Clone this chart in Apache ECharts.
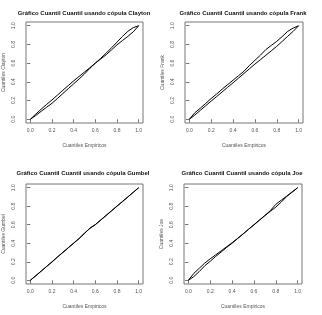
<!DOCTYPE html>
<html><head><meta charset="utf-8">
<script src="https://cdn.jsdelivr.net/npm/echarts@6/dist/echarts.min.js"></script>
<style>html,body{margin:0;padding:0;background:#fff}#c{width:322px;height:315px}</style>
</head><body><div id="c"></div>
<script>
var xs = [0,0.05,0.1,0.15,0.2,0.25,0.3,0.35,0.4,0.45,0.5,0.55,0.6,0.65,0.7,0.75,0.8,0.85,0.9,0.95,1];
var tickValues = [0,0.2,0.4,0.6,0.8,1];
var titles = ["Gráfico Cuantil Cuantil usando cópula Clayton","Gráfico Cuantil Cuantil usando cópula Frank","Gráfico Cuantil Cuantil usando cópula Gumbel","Gráfico Cuantil Cuantil usando cópula Joe"];
var yNames = ["Cuantiles Clayton","Cuantiles Frank","Cuantiles Gumbel","Cuantiles Joe"];
var xName = "Cuantiles Empiricos";
var claytonA = [0,0.055,0.108,0.158,0.207,0.258,0.31,0.36,0.41,0.458,0.505,0.552,0.6,0.652,0.707,0.765,0.825,0.885,0.94,0.98,1];
var claytonB = [0,0.04,0.085,0.128,0.171,0.222,0.275,0.327,0.379,0.43,0.485,0.545,0.6,0.645,0.69,0.742,0.796,0.842,0.886,0.935,1];
var frankA = [0,0.07,0.118,0.17,0.223,0.27,0.322,0.37,0.418,0.466,0.514,0.575,0.63,0.685,0.745,0.79,0.833,0.885,0.94,0.975,1];
var frankB = [0,0.045,0.095,0.145,0.195,0.243,0.292,0.342,0.39,0.44,0.49,0.54,0.59,0.637,0.684,0.732,0.78,0.833,0.887,0.94,1];
var gumbelA = [0,0.05,0.1,0.148,0.2,0.252,0.3,0.35,0.4,0.45,0.505,0.565,0.6,0.65,0.7,0.75,0.8,0.852,0.9,0.95,1];
var gumbelB = [0,0.048,0.098,0.15,0.197,0.25,0.302,0.352,0.402,0.452,0.51,0.56,0.602,0.652,0.702,0.752,0.802,0.848,0.9,0.95,1];
var joeA = [0,0.075,0.13,0.186,0.232,0.275,0.318,0.362,0.405,0.452,0.5,0.55,0.6,0.65,0.7,0.752,0.82,0.865,0.91,0.955,1];
var joeB = [0,0.04,0.095,0.157,0.205,0.258,0.305,0.355,0.4,0.45,0.5,0.55,0.598,0.648,0.698,0.745,0.79,0.845,0.905,0.952,1];
var panels = [[claytonA,claytonB],[frankA,frankB],[gumbelA,gumbelB],[joeA,joeB]];

var grids = [
  {left:25,top:22,width:118,height:101},
  {left:185,top:22,width:118,height:101},
  {left:25,top:184,width:118,height:100},
  {left:184,top:184,width:118,height:100}
];
var titlePos = [[84,13],[243,13],[83,173],[242,173]];
var lab = '#555';
var option = {animation:false, grid:[], xAxis:[], yAxis:[], series:[], graphic:[]};
grids.forEach(function(g,i){
  option.grid.push(Object.assign({show:true,borderColor:'#777',borderWidth:1,backgroundColor:'transparent'},g));
  var ax = {
    type:'value', gridIndex:i, min:-0.04, max:1.04,
    splitLine:{show:false}, axisLine:{show:false},
    axisTick:{show:true, length:3.5, customValues:tickValues, lineStyle:{color:'#777',width:1}},
    axisLabel:{customValues:tickValues, color:lab, fontFamily:'Liberation Sans', fontSize:5, margin:5,
      formatter:function(v){return v.toFixed(1);}},
    nameLocation:'middle', nameTextStyle:{color:lab, fontFamily:'Liberation Sans', fontSize:5}
  };
  var xa = JSON.parse(JSON.stringify(ax)); xa.axisLabel.formatter = ax.axisLabel.formatter;
  xa.name = xName; xa.nameGap = 20;
  var ya = JSON.parse(JSON.stringify(ax)); ya.axisLabel.formatter = ax.axisLabel.formatter;
  ya.axisLabel.rotate = 90; ya.axisLabel.margin = 10; ya.name = yNames[i]; ya.nameGap = 20;
  option.xAxis.push(xa); option.yAxis.push(ya);
  panels[i].forEach(function(arr){
    option.series.push({type:'line', xAxisIndex:i, yAxisIndex:i, showSymbol:false, symbol:'none',
      lineStyle:{color:'#000', width:1}, data: xs.map(function(x,k){return [x, arr[k]];})});
  });
  option.graphic.push({type:'text', x:titlePos[i][0], y:titlePos[i][1],
    style:{text:titles[i], textAlign:'center', textVerticalAlign:'middle', fill:'#111',
      font:'bold 6px "Liberation Sans"'}});
});
echarts.init(document.getElementById('c')).setOption(option);
</script></body></html>
